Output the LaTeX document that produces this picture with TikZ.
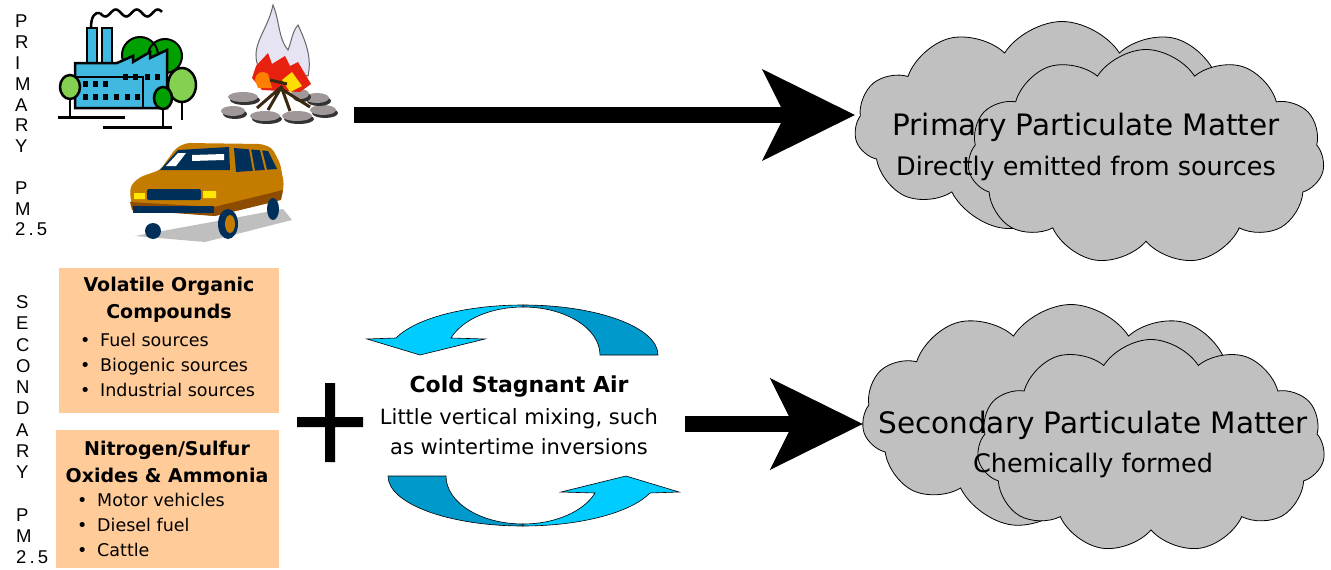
\documentclass[tikz,border=0pt]{standalone}
\usepackage{fontspec}
\setmainfont{DejaVu Sans}
\newfontfamily\letterfont{Liberation Sans}
\usetikzlibrary{positioning,arrows.meta,shapes.symbols}
\definecolor{peach}{HTML}{FFCC99}
\definecolor{cloudgray}{HTML}{C0C0C0}
\definecolor{aircyan}{HTML}{00CCFF}
\definecolor{airdark}{HTML}{0099CC}
\definecolor{plantblue}{HTML}{40B8E0}
\definecolor{treegreen}{HTML}{00A000}
\definecolor{leafgreen}{HTML}{84D050}
\definecolor{vanbody}{HTML}{C47C00}
\definecolor{vandark}{HTML}{8E4C00}
\definecolor{navy}{HTML}{00305A}
\definecolor{stone}{HTML}{A09898}
\definecolor{flamered}{HTML}{E82010}
\definecolor{flamepale}{HTML}{E6E4F2}
\definecolor{logbrown}{HTML}{3A2810}
\tikzset{%
sourcebox/.style={rectangle,fill=peach,inner sep=0},
boxtitle/.style={font=\fontsize{19}{27}\selectfont\bfseries,align=center,inner sep=0},
bulletitem/.style={font=\fontsize{17.5}{22}\selectfont,anchor=base west,inner sep=0},
sidelabel/.style={font=\letterfont\fontsize{18.5}{20.8}\selectfont,align=left,anchor=north west,inner sep=0},
puff/.style={cloud,cloud puffs=11,cloud puff arc=115,draw=black,line width=0.8pt,fill=cloudgray,inner sep=0},
cloudtitle/.style={font=\fontsize{29.5}{32}\selectfont,inner sep=0},
cloudnote/.style={font=\fontsize{25.5}{28}\selectfont,inner sep=0},
airtext/.style={font=\fontsize{21}{30}\selectfont,align=center,inner sep=0},
bigarrow/.style={line width=16pt,-{Stealth[length=93pt,width=92pt,inset=23pt,line width=0pt]}},
curl/.style={draw=black,line width=0.6pt},
outline/.style={draw=black,line width=2.5pt}
}

\begin{document}
\begin{tikzpicture}[x=1pt,y=-1pt]

    \fill[white] (0,0) rectangle (1331,570);
    \useasboundingbox (0,0) rectangle (1331,570);

    % side labels
    \node[sidelabel] (primlabel) at (15,15) {P\\R\\I\\M\\A\\R\\Y\\[20.8pt]P\\M\\2\,.\,5};
    \node[sidelabel,font=\letterfont\fontsize{18.5}{21.25}\selectfont] (seclabel) at (16,295.5)
      {S\\E\\C\\O\\N\\D\\A\\R\\Y\\[21.25pt]P\\M\\2\,.\,5};

    % factory
    \fill[treegreen,draw=black,line width=2pt] (140,55) circle (18) (165,56) circle (17);
    \draw[line width=2.5pt] (91,28) .. controls (91,16) and (95,12) .. (100,13)
      plot[domain=100:162,samples=60,smooth] (\x,{13+3.5*sin((\x-100)*17.14)});
    \filldraw[fill=plantblue,outline] (87,28) rectangle (97,64) (102,28) rectangle (112,64);
    \filldraw[fill=plantblue,outline] (75,108) -- (75,63) -- (117,63) -- (133,56) -- (133,62)
      -- (150,52) -- (150,58) -- (167,50) -- (167,108) -- cycle;
    \draw[line width=2pt] (75,77) -- (143,77) -- (143,108);
    \foreach \wx in {83,93,103} \fill (\wx,81) rectangle ++(5,6);
    \foreach \wx in {123,133,145,155} \fill (\wx,74) rectangle ++(5,6);
    \foreach \wx in {83,93,103,114,125,135} \fill (\wx,94) rectangle ++(5,6);
    \draw[line width=2.5pt] (70,99) -- (70,117) (182,102) -- (182,120) (163,109) -- (163,127);
    \filldraw[fill=leafgreen,outline] (70,87) ellipse (10 and 12);
    \filldraw[fill=leafgreen,outline] (182,85) ellipse (14 and 17);
    \filldraw[fill=treegreen,outline] (163,98) ellipse (9 and 11);
    \draw[line width=3pt] (58,117) -- (125,117) (103,127) -- (172,127);

    % campfire
    \foreach \sx/\sy/\rx in {243/97/15,233/111/12,265/116/15,297/116/15,323/110/13,317/98/12,300/94/9}
      {\fill[black!80] (\sx+2,\sy+3) ellipse (\rx pt and 5pt);
       \fill[stone] (\sx,\sy) ellipse (\rx pt and 5pt);}
    \filldraw[fill=flamepale,draw=black!60,line width=1pt] (258,66) .. controls (250,45) and (268,30) .. (273,5)
      .. controls (280,22) and (278,38) .. (288,50) .. controls (292,40) and (292,32) .. (298,25)
      .. controls (306,42) and (312,58) .. (308,76) -- cycle;
    \fill[flamered] (252,78) -- (256,66) -- (268,53) -- (272,64) -- (285,56) -- (290,66)
      -- (298,62) -- (311,84) -- (300,92) -- (262,90) -- cycle;
    \fill[orange] (255,80) .. controls (256,72) and (262,70) .. (268,74) -- (272,88) -- (258,88) -- cycle;
    \fill[yellow!80!orange] (282,80) -- (292,72) -- (302,86) -- (290,92) -- cycle;
    \draw[logbrown,line width=3pt] (280,88) -- (257,108) (280,88) -- (310,107) (281,86) -- (290,111)
      (270,80) -- (287,84) (282,86) -- (268,110);

    % van
    \fill[black!25] (135,236) -- (283,209) -- (292,220) -- (205,242) -- cycle;
    \fill[vanbody,rounded corners=4pt] (130,193) -- (132,208) -- (215,216) -- (281,200) -- (284,184) -- (280,163)
      -- (272,148) -- (262,144) -- (186,143) -- (176,148) -- (160,170) -- (140,177) -- (131,185) -- cycle;
    \fill[vandark] (130,202) -- (214,207) -- (283,190) -- (281,200) -- (215,216) -- (132,210) -- cycle;
    \fill[navy] (160,170) -- (178,150) -- (229,147) -- (230,170) -- cycle;
    \fill[navy] (234,148) -- (268,151) -- (277,169) -- (236,172) -- cycle;
    \fill[white] (166,166) -- (178,153) -- (186,153) -- (176,166) -- cycle
      (192,155) -- (224,154) -- (224,160) -- (192,161) -- cycle;
    \draw[vanbody,line width=2pt] (250,149) -- (254,171) (261,150) -- (266,170);
    \fill[navy,rounded corners=2pt] (147,189) rectangle (201,200);
    \fill[yellow!90!orange] (134,193) rectangle (145,199) (203,191) rectangle (216,198);
    \fill[navy] (133,206) rectangle (214,213);
    \fill[navy] (153,231) ellipse (8 and 8) (273,209) ellipse (6 and 11);
    \fill[navy] (228,224) ellipse (10 and 15);
    \fill[vanbody] (230,224) ellipse (5 and 9);

    % source boxes
    \node[sourcebox,minimum width=220pt,minimum height=145pt] (vocbox) at (169,340.5) {};
    \node[boxtitle] (voctitle) at (169,299.5) {Volatile Organic\\Compounds};
    \foreach \src [count=\i] in {Fuel sources,Biogenic sources,Industrial sources}
      \node[bulletitem] (voc\i) at (80,321+25*\i) {\makebox[20pt][l]{\textbullet}\src};

    \node[sourcebox,minimum width=223pt,minimum height=138pt] (noxbox) at (167.5,499) {};
    \node[boxtitle] (noxtitle) at (167,461.5) {Nitrogen/Sulfur\\Oxides \& Ammonia};
    \foreach \src [count=\i] in {Motor vehicles,Diesel fuel,Cattle}
      \node[bulletitem] (nox\i) at (77,481+25*\i) {\makebox[20pt][l]{\textbullet}\src};

    % plus
    \fill (325,383) rectangle (335,462) (297,417) rectangle (363,427);

    % circulating air
    \foreach \turn in {0,180}
    {
      \begin{scope}[rotate around={\turn:(523,415.5)}]
        \filldraw[fill=airdark,curl] (523,305) .. controls (597.6,305) and (658,327.4) .. (658,355)
          -- (600,355) .. controls (600,328.5) and (565.5,307) .. (523,307) -- cycle;
        \filldraw[fill=aircyan,curl] (523,305) .. controls (466.2,305) and (415.5,318.1) .. (396,338)
          -- (367,339) -- (420,355) -- (485,339) -- (451,338)
          .. controls (462.5,319.3) and (491.1,307) .. (523,307) -- cycle;
      \end{scope}
    }
    \node[airtext] (air) at (519,415) {{\bfseries\fontsize{22}{30}\selectfont Cold Stagnant Air}\\[2pt]
      Little vertical mixing, such\\as wintertime inversions};

    % clouds
    \node[puff,minimum width=415pt,minimum height=211pt] (pback) at (1062,127) {};
    \node[puff,minimum width=357pt,minimum height=215pt] (pfront) at (1146,157) {};
    \node[cloudtitle] (ptitle) at (1086,127) {Primary Particulate Matter};
    \node[cloudnote] (pnote) at (1086,168) {Directly emitted from sources};

    \node[puff,minimum width=418pt,minimum height=225pt] (sback) at (1071,417) {};
    \node[puff,minimum width=348pt,minimum height=213pt] (sfront) at (1151,446) {};
    \node[cloudtitle] (stitle) at (1093,425) {Secondary Particulate Matter};
    \node[cloudnote] (snote) at (1093,465) {Chemically formed};

    % arrows
    \coordinate (pstart) at (354,115);
    \draw[bigarrow] (pstart) -- (pstart -| pback.west);
    \coordinate (sstart) at (685,424);
    \draw[bigarrow] (sstart) -- (sstart -| sback.west);

\end{tikzpicture}
\end{document}
